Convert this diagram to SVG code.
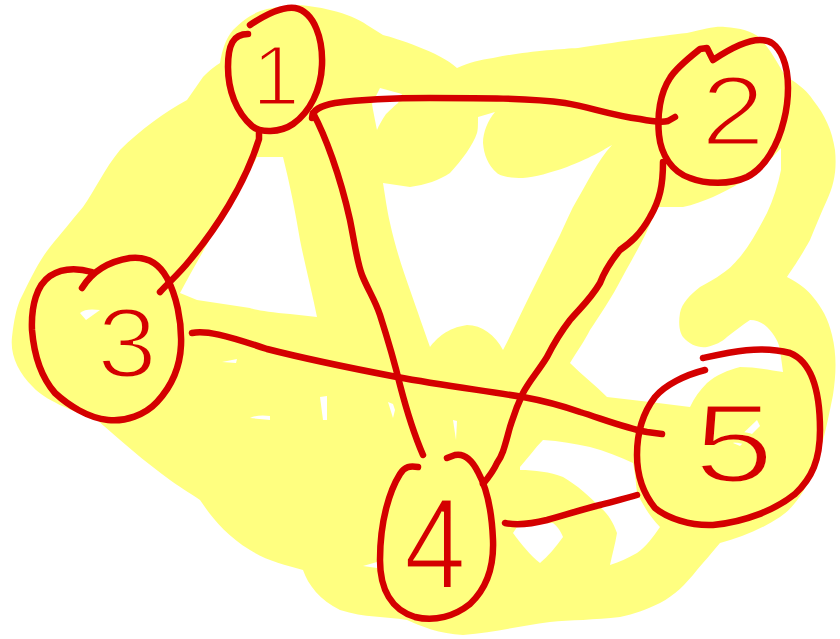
<svg xmlns="http://www.w3.org/2000/svg" width="840" height="639" viewBox="0 0 840 639">
<style>
.hl{fill:#FFFF80;stroke:none}
.hole{fill:#FFFFFF;stroke:none}
.ink{fill:none;stroke:#D40000;stroke-width:6.5;stroke-linecap:round;stroke-linejoin:round}
.num{fill:#D40000;stroke:#FFFF80;stroke-width:3;font-family:"Liberation Sans",Arial,sans-serif;text-anchor:middle}
</style>
<rect width="840" height="639" fill="#FFFFFF"/>
<g id="highlight">
<path class="hl" d="M290,5 C310,4 350,12 367,25 L383,35 C395,38 440,52 457,68 C470,62 480,60 493,58 C520,52 560,49 578,48 C610,43 660,36 687,33 C705,29 715,26 725,27 C740,28 752,31 760,38 C775,55 780,70 787,77 C800,85 808,92 813,100 C825,115 832,130 835,150 C837,170 834,185 827,200 C820,215 815,228 810,240 C800,258 793,268 787,277 C800,284 808,290 813,297 C822,308 828,318 832,335 C837,355 836,375 833,395 C828,420 822,450 812,475 C800,500 790,510 780,517 C760,530 740,538 720,543 C710,555 703,563 697,570 C685,585 675,595 660,603 C645,610 635,614 620,617 C595,620 570,620 550,622 C520,626 495,632 463,635 C440,634 420,626 407,620 C385,616 365,618 340,610 C320,600 308,585 303,570 C285,565 265,560 250,550 C225,535 210,515 200,500 C188,492 178,486 170,480 C145,462 120,440 97,420 C70,410 45,400 33,387 C18,372 10,355 12,337 C14,320 16,310 20,300 C30,280 38,262 50,247 C60,235 72,220 83,207 C95,190 105,168 120,150 C140,130 165,112 187,100 L203,77 C210,70 215,66 220,63 C222,50 226,38 233,30 C245,18 255,12 267,9 Z"/>
<path class="hole" d="M257,157 L283,157 C290,185 295,210 300,240 C305,265 312,292 317,317 L290,314 C270,312 255,310 250,308 L197,300 L180,293 C195,265 210,240 220,220 C235,195 248,175 257,157 Z"/>
<path class="hole" d="M383,183 C385,195 387,210 390,223 C396,250 403,270 410,290 C417,310 424,330 430,347 C437,338 447,328 467,325 C482,325 495,335 503,350 C512,333 520,315 530,295 C540,275 550,255 560,235 C566,222 571,210 577,200 C586,185 598,160 612,145 C600,152 590,158 567,167 C550,173 535,177 523,178 C510,178 500,176 497,173 C488,165 484,155 483,143 C483,132 488,120 495,112 L478,117 C478,125 478,130 477,133 C473,145 462,160 450,173 C440,180 425,185 410,187 Z"/>
<path class="hole" d="M380,88 L402,94 L398,103 C392,108 388,112 386,114 C382,120 379,125 377,130 C375,120 373,110 372,104 Z"/>
<path class="hole" d="M657,207 L683,207 C693,205 703,201 713,197 C723,192 732,188 740,183 C750,177 760,170 767,163 L781,148 L781,170 C778,185 773,200 767,213 C758,230 750,245 740,257 C733,265 728,270 723,273 C715,279 707,283 700,287 C690,295 682,303 680,313 C678,325 680,333 683,337 C690,345 698,348 707,347 C715,345 722,342 727,337 C735,331 742,325 750,320 C757,320 763,323 767,327 C775,335 779,343 780,350 L783,372 C770,370 755,367 740,367 C728,370 716,375 707,383 C700,390 694,398 690,407 L650,402 L607,397 C595,385 582,375 570,363 C578,350 585,340 590,330 C600,315 610,300 617,287 C625,272 633,258 640,245 C647,232 652,220 657,207 Z"/>
<path class="hole" d="M520,467 C528,458 535,448 543,440 C560,441 575,444 590,447 C605,451 620,457 633,463 C635,473 636,483 637,493 C643,505 650,517 660,527 C653,537 646,547 637,553 C628,558 620,562 610,565 C612,555 615,545 617,533 C613,522 608,514 600,507 C590,497 577,485 563,477 C550,472 535,470 520,470 Z"/>
<path class="hole" d="M513,533 C522,545 530,555 540,563 C548,556 556,547 563,537 C560,530 557,526 553,523 C540,523 528,525 517,527 Z"/>
<path class="hole" d="M733,443 L757,420 L760,426 L740,446 Z"/>
<path class="hole" d="M222,362 L237,359 L236,363 Z"/>
<path class="hole" d="M320,397 L327,396 L327,420 L323,420 Z"/>
<path class="hole" d="M250,418 C256,415 264,415 270,416 L270,420 Z"/>
<path class="hole" d="M388,402 L393,404 L395,410 L393,418 Z"/>
<path class="hole" d="M453,420 L457,421 L456,440 Z"/>
<path class="hole" d="M363,566 L377,562 L377,568 Z"/>
<path class="hole" d="M80,313 C84,309 92,309 100,310 L86,320 Z"/>
</g>
<g id="connectors">
<path class="ink" d="M312,118 C312,110 320,106 335,103 C365,99 395,98 430,98 C480,98 530,98 565,103 C590,107 610,115 640,119 C650,121 660,123 668,121 L675,117"/>
<path class="ink" d="M259,131 L259,139 C245,185 215,230 190,260 C178,275 168,283 160,292"/>
<path class="ink" d="M313,113 C325,135 340,175 350,220 C355,245 357,262 362,275 C368,290 375,300 380,315 C388,340 394,360 400,385 C406,408 413,432 423,455"/>
<path class="ink" d="M663,162 C663,185 660,200 650,217 C640,235 630,243 620,250 C610,262 605,270 600,283 C590,300 580,308 570,320 C560,333 553,345 547,357 C537,373 530,380 523,393 C515,410 513,418 510,427 C505,445 503,455 497,463 C493,472 488,478 483,484"/>
<path class="ink" d="M192,333 C205,330 225,335 267,349 C310,360 350,368 397,377 C440,385 480,390 523,397 C545,401 560,405 580,412 C600,418 625,428 647,432 L662,434"/>
<path class="ink" d="M505,523 C520,526 535,523 547,520 C565,515 580,510 600,505 C615,501 627,498 637,495"/>
</g>
<g id="node1">
<path class="ink" d="M250,25 C262,17 280,6 295,8 C315,12 323,40 322,65 C321,90 310,112 293,124 C280,133 260,133 252,126 C236,112 228,90 228,67 C228,45 233,34 248,34"/>
<text class="num" x="276" y="105" font-size="86">1</text>
</g>
<g id="node2">
<path class="ink" d="M713,60 L707,48 L700,49 C690,57 676,68 670,78 C660,93 657,115 659,135 C661,155 672,172 690,178 C705,184 730,185 747,177 C765,168 778,145 784,120 C789,100 790,75 783,58 C777,44 770,40 760,40 C745,40 728,50 713,60"/>
<text class="num" x="733" y="145" font-size="98" textLength="64" lengthAdjust="spacingAndGlyphs">2</text>
</g>
<g id="node3">
<path class="ink" d="M82,288 C90,275 105,262 130,258 C148,256 160,265 167,278 C176,295 182,320 181,345 C180,370 170,388 157,402 C145,415 125,422 108,420 C88,418 68,405 55,393 C42,378 34,355 32,330 C31,305 37,285 50,276 C62,268 78,268 92,272"/>
<text class="num" x="127" y="377" font-size="98" textLength="60" lengthAdjust="spacingAndGlyphs">3</text>
</g>
<g id="node4">
<path class="ink" d="M418,467 C410,466 405,466 400,474 C390,490 380,520 380,560 C380,590 392,610 415,617 C435,622 455,616 470,604 C487,588 494,565 493,540 C492,515 488,490 478,472 C472,460 465,453 455,455 L447,458"/>
<text class="num" x="435" y="588" font-size="130" textLength="62" lengthAdjust="spacingAndGlyphs">4</text>
</g>
<g id="node5">
<path class="ink" d="M703,358 C730,352 760,345 790,353 C812,362 820,390 820,430 C820,460 812,478 795,494 C775,510 745,522 713,525 C690,526 667,518 655,508 C642,492 637,475 637,455 C637,430 645,410 655,397 C665,385 685,375 705,370"/>
<text class="num" x="734" y="482" font-size="112" textLength="80" lengthAdjust="spacingAndGlyphs">5</text>
</g>
</svg>
